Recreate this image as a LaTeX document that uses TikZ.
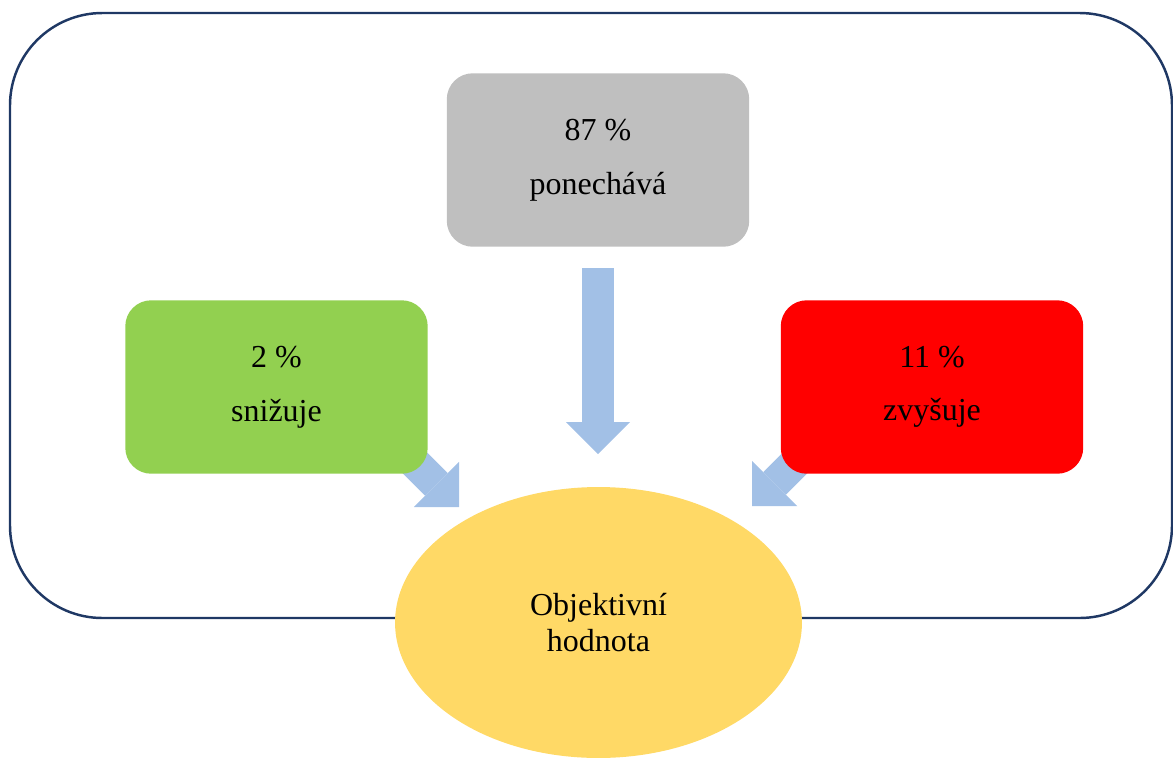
\documentclass[tikz,border=0pt]{standalone}
\usepackage{fontspec}
\setmainfont{Liberation Serif}
\usetikzlibrary{arrows.meta,shapes.geometric}

\definecolor{frameblue}{HTML}{1F3864}
\definecolor{keepgray}{HTML}{BFBFBF}
\definecolor{lowgreen}{HTML}{92D050}
\definecolor{highred}{HTML}{FF0000}
\definecolor{valuegold}{HTML}{FFD966}
\definecolor{flowblue}{HTML}{A2C0E6}

\begin{document}
\begin{tikzpicture}[
  x=0.02cm, y=-0.02cm,
  frame/.style={
    draw=frameblue,
    line width=1.4pt,
    rounded corners=1.85cm
  },
  box/.style={
    rectangle,
    rounded corners=0.52cm,
    minimum width=6.05cm,
    minimum height=3.47cm,
    inner sep=0pt,
    align=center,
    font=\fontsize{18.2}{30.5}\selectfont
  },
  goal/.style={
    ellipse,
    fill=valuegold,
    minimum width=8.14cm,
    minimum height=5.42cm,
    inner sep=0pt,
    align=center,
    font=\fontsize{18.2}{20.5}\selectfont
  },
  flow/.style={
    -{Triangle[length=0.64cm,width=1.28cm,line width=0pt]},
    draw=flowblue,
    line width=0.64cm
  }
]

\path[use as bounding box] (0,0) rectangle (1173,758);

\draw[frame] (10,13) rectangle (1172,618);

\coordinate (inC) at (598,268);
\coordinate (tipC) at (598,454);
\coordinate (inL) at (398,446);
\coordinate (tipL) at (459,507);
\coordinate (inR) at (812,446);
\coordinate (tipR) at (752,506);

\draw[flow] (inC) -- (tipC);
\draw[flow] (inL) -- (tipL);
\draw[flow] (inR) -- (tipR);

\node[box, fill=keepgray] (keep) at (598,160) {87 \%\\ponechává};
\node[box, fill=lowgreen] (lower) at (276.5,387) {2 \%\\snižuje};
\node[box, fill=highred] (raise) at (932,387) {11 \%\\zvyšuje};

\node[goal] (value) at (598.5,622.5) {Objektivní\\hodnota};

\end{tikzpicture}
\end{document}
